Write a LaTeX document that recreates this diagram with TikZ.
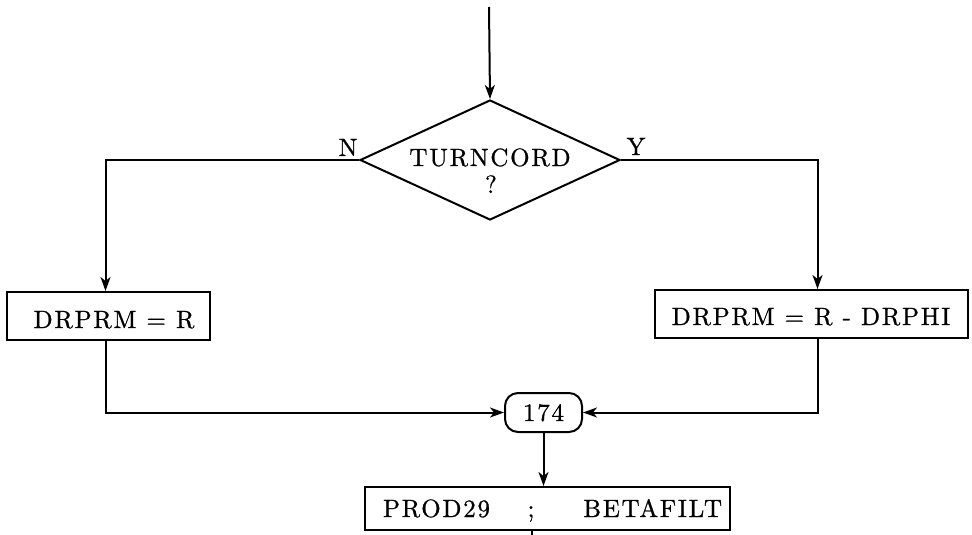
\documentclass[tikz,border=0pt]{standalone}
\usepackage{fontspec}
\newfontfamily\boxfont{lmroman10-regular.otf}[Scale=2.5,LetterSpace=7,FakeBold=0.8]
\usetikzlibrary{shapes.geometric,arrows.meta}
\begin{document}
\begin{tikzpicture}[x=1pt,y=-1pt,
  line width=2pt,
  every node/.style={font=\boxfont},
  arr/.style={-{Stealth[length=14pt,width=10pt,inset=4pt]}},
  procbox/.style={draw,rectangle,inner sep=0pt},
  dec/.style={draw,diamond,inner sep=0pt,minimum width=260pt,minimum height=120pt},
  conn/.style={draw,rectangle,rounded corners=13pt,inner sep=0pt}]
\useasboundingbox (0,0) rectangle (972,535);
\coordinate (start) at (489,7);
\node[dec] (d) at (490,160) {};
\node[inner sep=0pt,anchor=base] (dtext) at (490,166) {TURNCORD};
\node[inner sep=0pt,anchor=base] (dq) at (491,193) {?};
\node[inner sep=0pt,anchor=base] (nlab) at (348,156) {N};
\node[inner sep=0pt,anchor=base] (ylab) at (636,155) {Y};
\node[procbox,minimum width=203pt,minimum height=48pt] (lb) at (108.5,316) {};
\node[inner sep=0pt,anchor=base] (lbt) at (114,328) {DRPRM = R};
\node[procbox,minimum width=313pt,minimum height=48pt] (rb) at (811.5,314) {};
\node[inner sep=0pt,anchor=base] (rbt) at (811,325) {DRPRM = R - DRPHI};
\node[conn,minimum width=77pt,minimum height=39pt] (c) at (543.5,412.5) {};
\node[inner sep=0pt,anchor=base] (ct) at (543.5,421) {174};
\node[procbox,minimum width=365pt,minimum height=43pt] (pb) at (547.5,508.5) {};
\node[inner sep=0pt,anchor=base west] (pt1) at (382,517) {PROD29};
\node[inner sep=0pt,anchor=base] (pt2) at (531,517) {;};
\node[inner sep=0pt,anchor=base east] (pt3) at (723,517) {BETAFILT};
\coordinate (end) at (532,535);
\draw[arr] (start) -- (d.north);
\draw[arr] (d.west) -| ([xshift=-3pt]lb.north);
\draw[arr] (d.east) -| ([xshift=6pt]rb.north);
\draw[arr] ([xshift=-3pt]lb.south) |- (c.west);
\draw[arr] ([xshift=6pt]rb.south) |- (c.east);
\draw[arr] (c.south) -- (pb.north -| c.south);
\draw ([xshift=-15.5pt]pb.south) -- (end);
\end{tikzpicture}
\end{document}
